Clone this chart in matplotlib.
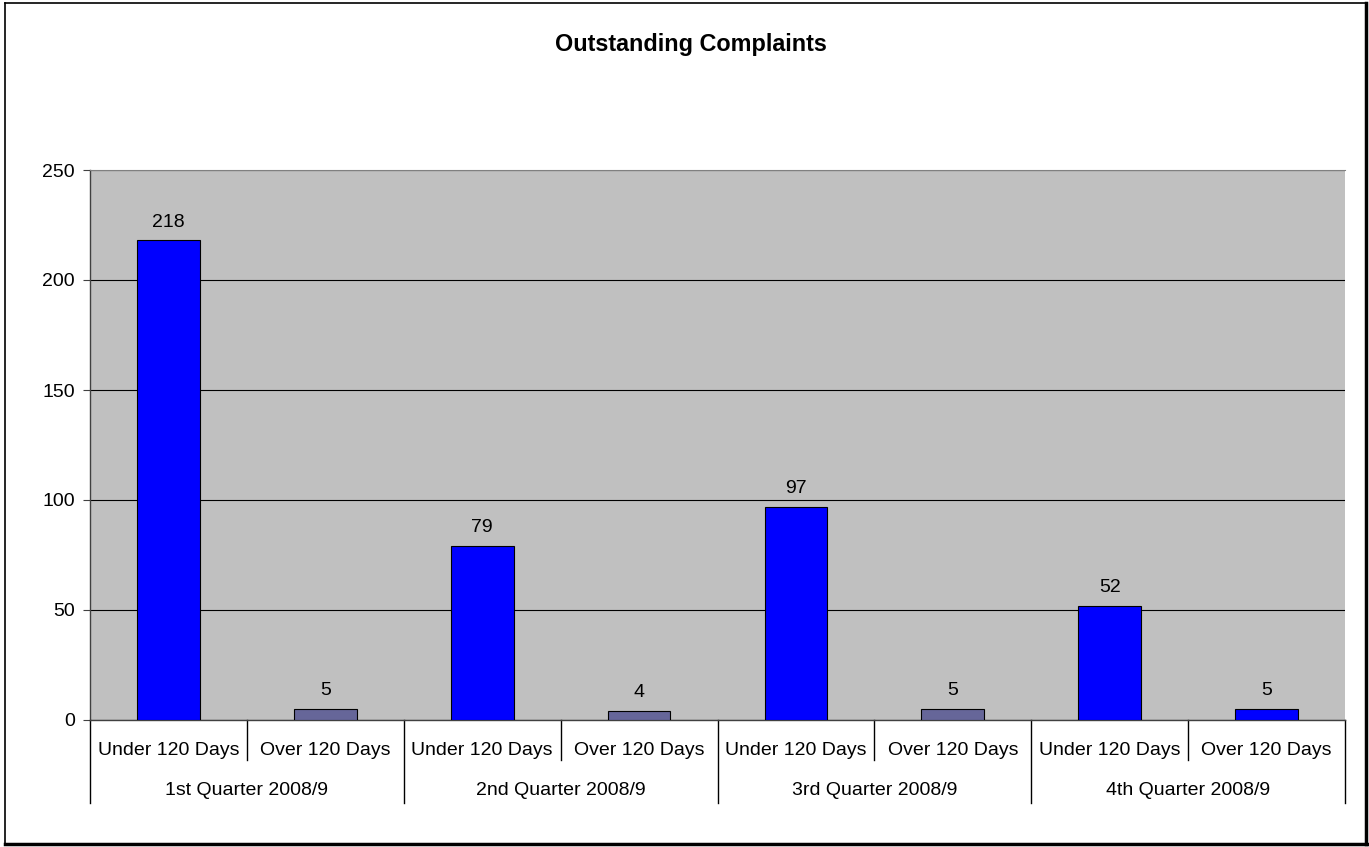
import matplotlib
matplotlib.use("Agg")
import matplotlib.pyplot as plt
from matplotlib.lines import Line2D
import matplotlib.transforms as mtransforms

plt.rcParams['font.family'] = ['Liberation Sans', 'DejaVu Sans']

title = "Outstanding Complaints"
quarters = ["1st Quarter 2008/9", "2nd Quarter 2008/9", "3rd Quarter 2008/9", "4th Quarter 2008/9"]
subcats = ["Under 120 Days", "Over 120 Days"]
values = [218, 5, 79, 4, 97, 5, 52, 5]
yticks = [0, 50, 100, 150, 200, 250]

BLUE = "#0000FF"
SLATE = "#666699"
bar_colors = [BLUE, SLATE, BLUE, SLATE, BLUE, SLATE, BLUE, BLUE]

FS = 14

W, H = 1369, 847
fig = plt.figure(figsize=(W / 100, H / 100), dpi=100)
fig.patch.set_facecolor("white")

ax = fig.add_axes([90 / W, 1 - 720 / H, (1345 - 90) / W, (720 - 170) / H])
ax.set_facecolor("#C0C0C0")

n = len(values)
xs = list(range(n))
ax.bar(xs, values, width=0.4, color=bar_colors, edgecolor="black", linewidth=0.8, zorder=3)

for x, v in zip(xs, values):
    ax.annotate(str(v), (x, v), xytext=(0, 10), textcoords="offset points",
                ha="center", va="baseline", fontsize=FS, color="black")

ax.set_xlim(-0.5, n - 0.5)
ax.set_ylim(0, 250)
ax.set_yticks(yticks)
ax.set_yticklabels([str(t) for t in yticks], fontsize=FS)
ax.tick_params(axis="y", direction="out", length=5, width=0.8, color="#404040", pad=6)
ax.set_xticks([])
ax.yaxis.grid(True, color="black", linewidth=0.8, zorder=1)
ax.set_axisbelow(True)

ax.spines["top"].set_color("#808080")
ax.spines["right"].set_visible(False)
ax.spines["left"].set_color("#404040")
ax.spines["bottom"].set_color("#404040")
ax.spines["left"].set_linewidth(1.0)
ax.spines["bottom"].set_linewidth(1.0)

# Multi-level category axis
trans = mtransforms.blended_transform_factory(ax.transData, ax.transAxes)
ax_h_px = 720 - 170
def y_ax(px_below):
    return -px_below / ax_h_px

for i in range(n):
    ax.text(i, y_ax(35), subcats[i % len(subcats)], transform=trans,
            ha="center", va="baseline", fontsize=FS, color="black")
for qi, q in enumerate(quarters):
    center = qi * len(subcats) + (len(subcats) - 1) / 2
    ax.text(center, y_ax(75), q, transform=trans,
            ha="center", va="baseline", fontsize=FS, color="black")

for b in range(n + 1):
    xb = b - 0.5
    y0 = y_ax(83) if b % len(subcats) == 0 else y_ax(40)
    ax.add_line(Line2D([xb, xb], [0, y0], transform=trans, color="black",
                       linewidth=1.0, clip_on=False))

fig.text(691 / W, 1 - 51 / H, title, ha="center", va="baseline", fontsize=16.8, fontweight="bold")

# figure border
fig.add_artist(Line2D([5 / W, 1365 / W], [1 - 3 / H, 1 - 3 / H], transform=fig.transFigure, color="black", linewidth=1.2))
fig.add_artist(Line2D([5 / W, 5 / W], [1 - 3 / H, 1 - 843 / H], transform=fig.transFigure, color="black", linewidth=1.2))
fig.add_artist(Line2D([1366 / W, 1366 / W], [1 - 3 / H, 1 - 844 / H], transform=fig.transFigure, color="black", linewidth=2.5))
fig.add_artist(Line2D([5 / W, 1367 / W], [1 - 844 / H, 1 - 844 / H], transform=fig.transFigure, color="black", linewidth=2.5))

fig.savefig("out.png", dpi=100)
